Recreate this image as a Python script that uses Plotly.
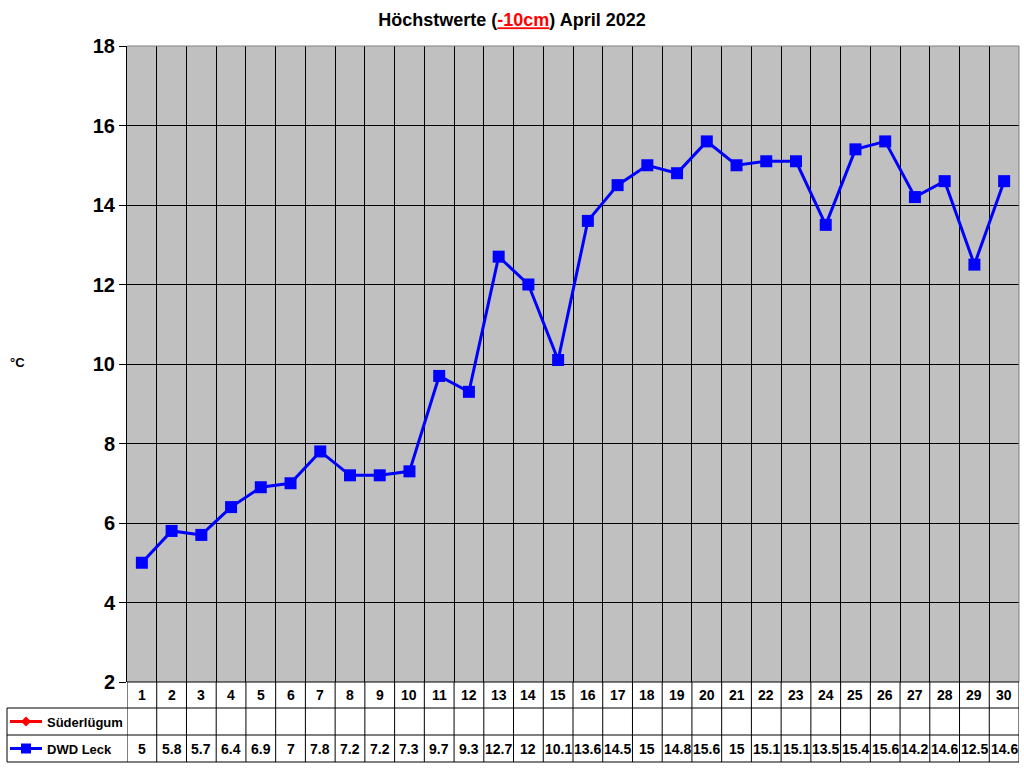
import plotly.graph_objects as go

# Daten April 2022, Höchstwerte -10cm
days = list(range(1, 31))
dwd_leck = [5, 5.8, 5.7, 6.4, 6.9, 7, 7.8, 7.2, 7.2, 7.3, 9.7, 9.3, 12.7, 12, 10.1,
            13.6, 14.5, 15, 14.8, 15.6, 15, 15.1, 15.1, 13.5, 15.4, 15.6, 14.2, 14.6, 12.5, 14.6]
suederluegum = [None] * 30
y_ticks = list(range(2, 19, 2))

W, H = 1024, 768
L, R, T, B = 127, 1019, 46, 682   # plot area in px


def py(p):
    # pixel y -> paper y
    return (B - p) / (B - T)


def px(p):
    # pixel x -> paper x
    return (p - L) / (R - L)


FONT = "Arial, Liberation Sans, sans-serif"

fig = go.Figure()
fig.add_trace(go.Scatter(x=days, y=suederluegum, mode="lines+markers", name="Süderlügum",
                         line=dict(color="#FF0000", width=3),
                         marker=dict(symbol="diamond", size=10, color="#FF0000")))
fig.add_trace(go.Scatter(x=days, y=dwd_leck, mode="lines+markers", name="DWD Leck",
                         line=dict(color="#0000FF", width=3),
                         marker=dict(symbol="square", size=12, color="#0000FF")))

shapes = []
ann = []
black = dict(color="black", width=1)

# Rahmen Plotbereich
shapes.append(dict(type="line", xref="paper", yref="paper", x0=0, x1=1, y0=1, y1=1,
                   line=dict(color="#808080", width=1)))
shapes.append(dict(type="line", xref="paper", yref="paper", x0=1, x1=1, y0=0, y1=1,
                   line=dict(color="#808080", width=1)))

# Datentabelle unten
row_y = [682, 708, 735, 762]
for i, yy in enumerate(row_y):
    x0 = 0 if i == 0 else px(7)
    shapes.append(dict(type="line", xref="paper", yref="paper", x0=x0, x1=1,
                       y0=py(yy), y1=py(yy), line=black))
shapes.append(dict(type="line", xref="paper", yref="paper", x0=px(7), x1=px(7),
                   y0=py(708), y1=py(762), line=black))
for d in [0] + days:
    shapes.append(dict(type="line", xref="x", yref="paper", x0=d + 0.5, x1=d + 0.5,
                       y0=py(682), y1=py(762), line=black))

cell_font = dict(family=FONT, size=14, color="black", weight="bold")
for d, v in zip(days, dwd_leck):
    ann.append(dict(x=d, y=py(695), xref="x", yref="paper", text="%d" % d,
                    xanchor="center", yanchor="middle", showarrow=False, font=cell_font))
    ann.append(dict(x=d, y=py(749), xref="x", yref="paper", text="%g" % v,
                    xanchor="center", yanchor="middle", showarrow=False, font=cell_font))

# Legendensymbole in der Tabelle
for yy, col, sym in [(721.5, "#FF0000", "diamond"), (748.5, "#0000FF", "square")]:
    shapes.append(dict(type="line", xref="paper", yref="paper", x0=px(10), x1=px(42),
                       y0=py(yy), y1=py(yy), line=dict(color=col, width=3)))
    if sym == "square":
        shapes.append(dict(type="rect", xref="paper", yref="paper", x0=px(21), x1=px(31),
                           y0=py(yy + 5), y1=py(yy - 5), fillcolor=col, line=dict(width=0)))
    else:
        path = "M %f,%f L %f,%f L %f,%f L %f,%f Z" % (
            px(26), py(yy - 5), px(31), py(yy), px(26), py(yy + 5), px(21), py(yy))
        shapes.append(dict(type="path", xref="paper", yref="paper", path=path,
                           fillcolor=col, line=dict(width=0)))
for yy, name in [(722, "Süderlügum"), (749, "DWD Leck")]:
    ann.append(dict(x=px(45), y=py(yy), xref="paper", yref="paper", text=name,
                    xanchor="left", yanchor="middle", showarrow=False,
                    font=dict(family=FONT, size=13, color="black", weight="bold")))

# Einheit
ann.append(dict(x=px(8), y=py(362), xref="paper", yref="paper", text="°C",
                xanchor="left", yanchor="middle", showarrow=False,
                font=dict(family=FONT, size=13, color="black", weight="bold")))

fig.update_layout(
    width=W, height=H,
    margin=dict(l=L, r=W - R, t=T, b=H - B),
    paper_bgcolor="white", plot_bgcolor="#C0C0C0",
    showlegend=False,
    title=dict(text="Höchstwerte (<span style='color:#FF0000'><u>-10cm</u></span>) April 2022",
               x=0.5, xref="container", xanchor="center", y=1 - 20 / H, yanchor="middle",
               font=dict(family=FONT, size=18, color="black", weight="bold")),
    xaxis=dict(range=[0.5, 30.5], tickvals=[d + 0.5 for d in days[:-1]], showticklabels=False,
               ticks="", showgrid=True, gridcolor="black", gridwidth=1, zeroline=False,
               showline=False, fixedrange=True),
    yaxis=dict(range=[2, 18], tickvals=y_ticks, showgrid=True, gridcolor="black", gridwidth=1,
               zeroline=False, showline=True, linecolor="black", linewidth=1,
               ticks="outside", ticklen=7, tickcolor="black",
               tickfont=dict(family=FONT, size=20, color="black", weight="bold")),
    shapes=shapes, annotations=ann,
)

fig.write_html("out.html", config={"displayModeBar": False},
               post_script="document.body.style.margin='0px';")
